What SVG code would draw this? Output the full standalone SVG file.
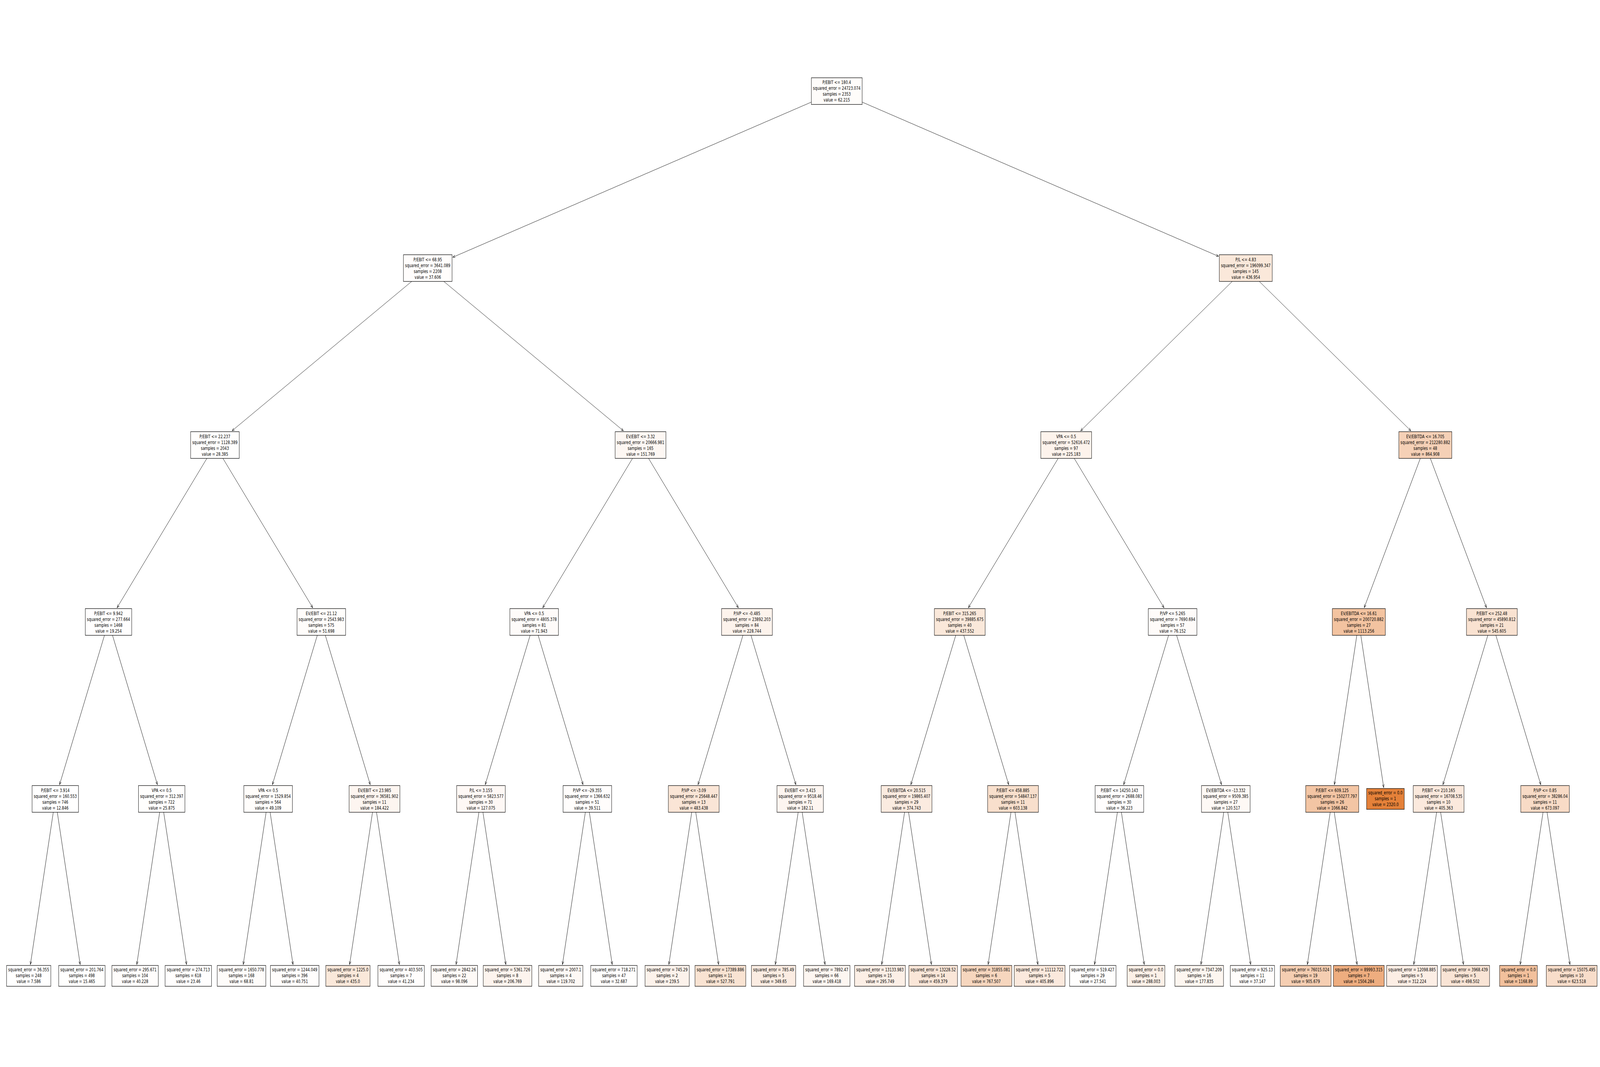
<svg xmlns="http://www.w3.org/2000/svg" width="5594" height="2732" viewBox="0 0 5594 2732" preserveAspectRatio="none">
<defs>
<style>
svg{width:100vw;height:100vh;display:block}
.n rect{stroke:#000;stroke-width:1.2}
.n text{font-family:"DejaVu Sans",sans-serif;font-size:12px;text-anchor:middle;fill:#000}
#edges path{stroke:#000;stroke-width:1;fill:none;marker-end:url(#ah)}
</style>
<marker id="ah" markerUnits="userSpaceOnUse" orient="auto" markerWidth="20" markerHeight="20" refX="0" refY="0" viewBox="-10 -10 20 20" overflow="visible">
<path d="M-8,-3.2 L0,0 L-8,3.2" fill="none" stroke="#000" stroke-width="1"/>
</marker>
</defs>
<rect x="0" y="0" width="5594" height="2732" fill="#fff"/>
<g id="edges">
<path d="M2925.5,233.3 L1583.3,658.6"/>
<path d="M2925.5,233.3 L4260,656.2"/>
<path d="M1495.5,686.4 L811.6,1102.85"/>
<path d="M1495.5,686.4 L2179.3,1102.85"/>
<path d="M4355.5,686.4 L3778.5,1102.85"/>
<path d="M4355.5,686.4 L4932.5,1102.85"/>
<path d="M751.4,1139.5 L409.4,1555.85"/>
<path d="M751.4,1139.5 L1093.3,1555.85"/>
<path d="M2239.5,1139.5 L1897.6,1555.85"/>
<path d="M2239.5,1139.5 L2581.4,1555.85"/>
<path d="M3727.7,1139.5 L3385.7,1555.85"/>
<path d="M3727.7,1139.5 L4069.6,1555.85"/>
<path d="M4983.3,1139.5 L4769.6,1555.85"/>
<path d="M4983.3,1139.5 L5197.1,1555.85"/>
<path d="M379.3,1592.5 L208.3,2008.95"/>
<path d="M379.3,1592.5 L550.3,2008.95"/>
<path d="M1123.4,1592.5 L952.4,2008.95"/>
<path d="M1123.4,1592.5 L1294.4,2008.95"/>
<path d="M1867.5,1592.5 L1696.5,2008.95"/>
<path d="M1867.5,1592.5 L2038.5,2008.95"/>
<path d="M2611.5,1592.5 L2440.5,2008.95"/>
<path d="M2611.5,1592.5 L2782.5,2008.95"/>
<path d="M3355.6,1592.5 L3184.6,2008.95"/>
<path d="M3355.6,1592.5 L3526.6,2008.95"/>
<path d="M4099.7,1592.5 L3928.7,2008.95"/>
<path d="M4099.7,1592.5 L4270.7,2008.95"/>
<path d="M4750.8,1592.5 L4665.3,2008.95"/>
<path d="M4750.8,1592.5 L4837.8,2016.45"/>
<path d="M5215.9,1592.5 L5044.85,2008.95"/>
<path d="M5215.9,1592.5 L5386.85,2008.95"/>
<path d="M193.3,2045.6 L106.3,2469.55"/>
<path d="M193.3,2045.6 L280.3,2469.55"/>
<path d="M565.3,2045.6 L478.3,2469.55"/>
<path d="M565.3,2045.6 L652.3,2469.55"/>
<path d="M937.4,2045.6 L850.4,2469.55"/>
<path d="M937.4,2045.6 L1024.4,2469.55"/>
<path d="M1309.4,2045.6 L1222.4,2469.55"/>
<path d="M1309.4,2045.6 L1396.4,2469.55"/>
<path d="M1681.5,2045.6 L1594.5,2469.55"/>
<path d="M1681.5,2045.6 L1768.5,2469.55"/>
<path d="M2053.5,2045.6 L1966.5,2469.55"/>
<path d="M2053.5,2045.6 L2140.5,2469.55"/>
<path d="M2425.5,2045.6 L2338.5,2469.55"/>
<path d="M2425.5,2045.6 L2512.5,2469.55"/>
<path d="M2797.6,2045.6 L2710.6,2469.55"/>
<path d="M2797.6,2045.6 L2884.6,2469.55"/>
<path d="M3169.6,2045.6 L3082.6,2469.55"/>
<path d="M3169.6,2045.6 L3256.6,2469.55"/>
<path d="M3541.7,2045.6 L3454.7,2469.55"/>
<path d="M3541.7,2045.6 L3628.7,2469.55"/>
<path d="M3913.7,2045.6 L3826.7,2469.55"/>
<path d="M3913.7,2045.6 L4000.7,2469.55"/>
<path d="M4285.7,2045.6 L4198.7,2469.55"/>
<path d="M4285.7,2045.6 L4372.7,2469.55"/>
<path d="M4657.8,2045.6 L4570.8,2469.55"/>
<path d="M4657.8,2045.6 L4744.8,2469.55"/>
<path d="M5029.8,2045.6 L4942.8,2469.55"/>
<path d="M5029.8,2045.6 L5116.8,2469.55"/>
<path d="M5401.9,2045.6 L5314.9,2469.55"/>
<path d="M5401.9,2045.6 L5488.9,2469.55"/>
</g>

<g id="node0" class="n"><rect x="2836.72" y="199.15" width="177.56" height="68.3" fill="#fefcfa"/><text x="2925.5" y="215.5">P/EBIT &lt;= 180.4<tspan x="2925.5" dy="15">squared_error = 24723.074</tspan><tspan x="2925.5" dy="15">samples = 2353</tspan><tspan x="2925.5" dy="15">value = 62.215</tspan></text></g>

<g id="node1" class="n"><rect x="1410.54" y="652.25" width="169.93" height="68.3" fill="#fffdfc"/><text x="1495.5" y="668.6">P/EBIT &lt;= 68.95<tspan x="1495.5" dy="15">squared_error = 3641.089</tspan><tspan x="1495.5" dy="15">samples = 2208</tspan><tspan x="1495.5" dy="15">value = 37.606</tspan></text></g>
<g id="node2" class="n"><rect x="4262.9" y="652.25" width="185.2" height="68.3" fill="#fae8da"/><text x="4355.5" y="668.6">P/L &lt;= 4.83<tspan x="4355.5" dy="15">squared_error = 196099.347</tspan><tspan x="4355.5" dy="15">samples = 145</tspan><tspan x="4355.5" dy="15">value = 436.954</tspan></text></g>

<g id="node3" class="n"><rect x="666.44" y="1105.35" width="169.93" height="68.3" fill="#fffefd"/><text x="751.4" y="1121.7">P/EBIT &lt;= 22.237<tspan x="751.4" dy="15">squared_error = 1128.389</tspan><tspan x="751.4" dy="15">samples = 2043</tspan><tspan x="751.4" dy="15">value = 28.385</tspan></text></g>
<g id="node4" class="n"><rect x="2150.72" y="1105.35" width="177.56" height="68.3" fill="#fdf7f3"/><text x="2239.5" y="1121.7">EV/EBIT &lt;= 3.32<tspan x="2239.5" dy="15">squared_error = 20666.981</tspan><tspan x="2239.5" dy="15">samples = 165</tspan><tspan x="2239.5" dy="15">value = 151.769</tspan></text></g>
<g id="node5" class="n"><rect x="3638.92" y="1105.35" width="177.56" height="68.3" fill="#fdf3ec"/><text x="3727.7" y="1121.7">VPA &lt;= 0.5<tspan x="3727.7" dy="15">squared_error = 52616.472</tspan><tspan x="3727.7" dy="15">samples = 97</tspan><tspan x="3727.7" dy="15">value = 225.183</tspan></text></g>
<g id="node6" class="n"><rect x="4890.7" y="1105.35" width="185.2" height="68.3" fill="#f5d0b6"/><text x="4983.3" y="1121.7">EV/EBITDA &lt;= 16.705<tspan x="4983.3" dy="15">squared_error = 212280.882</tspan><tspan x="4983.3" dy="15">samples = 48</tspan><tspan x="4983.3" dy="15">value = 864.908</tspan></text></g>

<g id="node7" class="n"><rect x="298.16" y="1558.35" width="162.29" height="68.3" fill="#fffefe"/><text x="379.3" y="1574.7">P/EBIT &lt;= 9.942<tspan x="379.3" dy="15">squared_error = 277.664</tspan><tspan x="379.3" dy="15">samples = 1468</tspan><tspan x="379.3" dy="15">value = 19.254</tspan></text></g>
<g id="node8" class="n"><rect x="1038.44" y="1558.35" width="169.93" height="68.3" fill="#fffdfb"/><text x="1123.4" y="1574.7">EV/EBIT &lt;= 21.12<tspan x="1123.4" dy="15">squared_error = 2543.983</tspan><tspan x="1123.4" dy="15">samples = 575</tspan><tspan x="1123.4" dy="15">value = 51.698</tspan></text></g>
<g id="node9" class="n"><rect x="1782.54" y="1558.35" width="169.93" height="68.3" fill="#fefbf9"/><text x="1867.5" y="1574.7">VPA &lt;= 0.5<tspan x="1867.5" dy="15">squared_error = 4805.378</tspan><tspan x="1867.5" dy="15">samples = 81</tspan><tspan x="1867.5" dy="15">value = 71.943</tspan></text></g>
<g id="node10" class="n"><rect x="2522.72" y="1558.35" width="177.56" height="68.3" fill="#fdf3ec"/><text x="2611.5" y="1574.7">P/VP &lt;= -0.485<tspan x="2611.5" dy="15">squared_error = 23892.203</tspan><tspan x="2611.5" dy="15">samples = 84</tspan><tspan x="2611.5" dy="15">value = 228.744</tspan></text></g>
<g id="node11" class="n"><rect x="3266.82" y="1558.35" width="177.56" height="68.3" fill="#fae8da"/><text x="3355.6" y="1574.7">P/EBIT &lt;= 315.265<tspan x="3355.6" dy="15">squared_error = 39885.675</tspan><tspan x="3355.6" dy="15">samples = 40</tspan><tspan x="3355.6" dy="15">value = 437.552</tspan></text></g>
<g id="node12" class="n"><rect x="4014.74" y="1558.35" width="169.93" height="68.3" fill="#fefbf9"/><text x="4099.7" y="1574.7">P/VP &lt;= 5.265<tspan x="4099.7" dy="15">squared_error = 7690.694</tspan><tspan x="4099.7" dy="15">samples = 57</tspan><tspan x="4099.7" dy="15">value = 76.152</tspan></text></g>
<g id="node13" class="n"><rect x="4658.2" y="1558.35" width="185.2" height="68.3" fill="#f3c3a0"/><text x="4750.8" y="1574.7">EV/EBITDA &lt;= 16.61<tspan x="4750.8" dy="15">squared_error = 200720.882</tspan><tspan x="4750.8" dy="15">samples = 27</tspan><tspan x="4750.8" dy="15">value = 1113.256</tspan></text></g>
<g id="node14" class="n"><rect x="5127.12" y="1558.35" width="177.56" height="68.3" fill="#f9e2d1"/><text x="5215.9" y="1574.7">P/EBIT &lt;= 252.48<tspan x="5215.9" dy="15">squared_error = 45890.812</tspan><tspan x="5215.9" dy="15">samples = 21</tspan><tspan x="5215.9" dy="15">value = 545.605</tspan></text></g>

<g id="node15" class="n"><rect x="112.16" y="2011.45" width="162.29" height="68.3" fill="#ffffff"/><text x="193.3" y="2027.8">P/EBIT &lt;= 3.914<tspan x="193.3" dy="15">squared_error = 160.553</tspan><tspan x="193.3" dy="15">samples = 746</tspan><tspan x="193.3" dy="15">value = 12.846</tspan></text></g>
<g id="node16" class="n"><rect x="484.16" y="2011.45" width="162.29" height="68.3" fill="#fffefd"/><text x="565.3" y="2027.8">VPA &lt;= 0.5<tspan x="565.3" dy="15">squared_error = 312.397</tspan><tspan x="565.3" dy="15">samples = 722</tspan><tspan x="565.3" dy="15">value = 25.875</tspan></text></g>
<g id="node17" class="n"><rect x="852.44" y="2011.45" width="169.93" height="68.3" fill="#fffdfb"/><text x="937.4" y="2027.8">VPA &lt;= 0.5<tspan x="937.4" dy="15">squared_error = 1529.854</tspan><tspan x="937.4" dy="15">samples = 564</tspan><tspan x="937.4" dy="15">value = 49.109</tspan></text></g>
<g id="node18" class="n"><rect x="1220.62" y="2011.45" width="177.56" height="68.3" fill="#fdf5f0"/><text x="1309.4" y="2027.8">EV/EBIT &lt;= 23.985<tspan x="1309.4" dy="15">squared_error = 36581.902</tspan><tspan x="1309.4" dy="15">samples = 11</tspan><tspan x="1309.4" dy="15">value = 184.422</tspan></text></g>
<g id="node19" class="n"><rect x="1596.54" y="2011.45" width="169.93" height="68.3" fill="#fef8f5"/><text x="1681.5" y="2027.8">P/L &lt;= 3.155<tspan x="1681.5" dy="15">squared_error = 5823.577</tspan><tspan x="1681.5" dy="15">samples = 30</tspan><tspan x="1681.5" dy="15">value = 127.075</tspan></text></g>
<g id="node20" class="n"><rect x="1968.54" y="2011.45" width="169.93" height="68.3" fill="#fffdfc"/><text x="2053.5" y="2027.8">P/VP &lt;= -29.355<tspan x="2053.5" dy="15">squared_error = 1366.632</tspan><tspan x="2053.5" dy="15">samples = 51</tspan><tspan x="2053.5" dy="15">value = 39.511</tspan></text></g>
<g id="node21" class="n"><rect x="2336.72" y="2011.45" width="177.56" height="68.3" fill="#fae5d6"/><text x="2425.5" y="2027.8">P/VP &lt;= -3.09<tspan x="2425.5" dy="15">squared_error = 25648.447</tspan><tspan x="2425.5" dy="15">samples = 13</tspan><tspan x="2425.5" dy="15">value = 483.438</tspan></text></g>
<g id="node22" class="n"><rect x="2716.46" y="2011.45" width="162.29" height="68.3" fill="#fdf5f0"/><text x="2797.6" y="2027.8">EV/EBIT &lt;= 3.415<tspan x="2797.6" dy="15">squared_error = 9518.46</tspan><tspan x="2797.6" dy="15">samples = 71</tspan><tspan x="2797.6" dy="15">value = 182.11</tspan></text></g>
<g id="node23" class="n"><rect x="3080.82" y="2011.45" width="177.56" height="68.3" fill="#fbebe0"/><text x="3169.6" y="2027.8">EV/EBITDA &lt;= 20.515<tspan x="3169.6" dy="15">squared_error = 19865.407</tspan><tspan x="3169.6" dy="15">samples = 29</tspan><tspan x="3169.6" dy="15">value = 374.743</tspan></text></g>
<g id="node24" class="n"><rect x="3452.92" y="2011.45" width="177.56" height="68.3" fill="#f8dfcc"/><text x="3541.7" y="2027.8">P/EBIT &lt;= 458.885<tspan x="3541.7" dy="15">squared_error = 54847.137</tspan><tspan x="3541.7" dy="15">samples = 11</tspan><tspan x="3541.7" dy="15">value = 603.138</tspan></text></g>
<g id="node25" class="n"><rect x="3828.74" y="2011.45" width="169.93" height="68.3" fill="#fffdfd"/><text x="3913.7" y="2027.8">P/EBIT &lt;= 14250.143<tspan x="3913.7" dy="15">squared_error = 2688.083</tspan><tspan x="3913.7" dy="15">samples = 30</tspan><tspan x="3913.7" dy="15">value = 36.223</tspan></text></g>
<g id="node26" class="n"><rect x="4200.74" y="2011.45" width="169.93" height="68.3" fill="#fef9f5"/><text x="4285.7" y="2027.8">EV/EBITDA &lt;= -13.332<tspan x="4285.7" dy="15">squared_error = 9509.385</tspan><tspan x="4285.7" dy="15">samples = 27</tspan><tspan x="4285.7" dy="15">value = 120.517</tspan></text></g>
<g id="node27" class="n"><rect x="4565.2" y="2011.45" width="185.2" height="68.3" fill="#f3c5a4"/><text x="4657.8" y="2027.8">P/EBIT &lt;= 609.125<tspan x="4657.8" dy="15">squared_error = 150277.797</tspan><tspan x="4657.8" dy="15">samples = 26</tspan><tspan x="4657.8" dy="15">value = 1066.842</tspan></text></g>
<g id="node28" class="n"><rect x="4777.93" y="2018.95" width="131.75" height="53.3" fill="#e58139"/><text x="4843.8" y="2034.1">squared_error = 0.0<tspan x="4843.8" dy="15">samples = 1</tspan><tspan x="4843.8" dy="15">value = 2320.0</tspan></text></g>
<g id="node29" class="n"><rect x="4941.02" y="2011.45" width="177.56" height="68.3" fill="#fbe9dd"/><text x="5029.8" y="2027.8">P/EBIT &lt;= 210.165<tspan x="5029.8" dy="15">squared_error = 16708.535</tspan><tspan x="5029.8" dy="15">samples = 10</tspan><tspan x="5029.8" dy="15">value = 405.363</tspan></text></g>
<g id="node30" class="n"><rect x="5316.94" y="2011.45" width="169.93" height="68.3" fill="#f8dbc6"/><text x="5401.9" y="2027.8">P/VP &lt;= 0.85<tspan x="5401.9" dy="15">squared_error = 38286.04</tspan><tspan x="5401.9" dy="15">samples = 11</tspan><tspan x="5401.9" dy="15">value = 673.097</tspan></text></g>

<g id="leaf0" class="n"><rect x="22.97" y="2472.05" width="154.66" height="53.3" fill="#ffffff"/><text x="100.3" y="2487.2">squared_error = 36.355<tspan x="100.3" dy="15">samples = 248</tspan><tspan x="100.3" dy="15">value = 7.586</tspan></text></g>
<g id="leaf1" class="n"><rect x="205.16" y="2472.05" width="162.29" height="53.3" fill="#fffffe"/><text x="286.3" y="2487.2">squared_error = 201.764<tspan x="286.3" dy="15">samples = 498</tspan><tspan x="286.3" dy="15">value = 15.465</tspan></text></g>
<g id="leaf2" class="n"><rect x="391.16" y="2472.05" width="162.29" height="53.3" fill="#fffdfc"/><text x="472.3" y="2487.2">squared_error = 295.671<tspan x="472.3" dy="15">samples = 104</tspan><tspan x="472.3" dy="15">value = 40.228</tspan></text></g>
<g id="leaf3" class="n"><rect x="577.26" y="2472.05" width="162.29" height="53.3" fill="#fffefe"/><text x="658.4" y="2487.2">squared_error = 274.713<tspan x="658.4" dy="15">samples = 618</tspan><tspan x="658.4" dy="15">value = 23.46</tspan></text></g>
<g id="leaf4" class="n"><rect x="759.44" y="2472.05" width="169.93" height="53.3" fill="#fefcfa"/><text x="844.4" y="2487.2">squared_error = 1650.778<tspan x="844.4" dy="15">samples = 168</tspan><tspan x="844.4" dy="15">value = 68.81</tspan></text></g>
<g id="leaf5" class="n"><rect x="945.44" y="2472.05" width="169.93" height="53.3" fill="#fffdfc"/><text x="1030.4" y="2487.2">squared_error = 1244.049<tspan x="1030.4" dy="15">samples = 396</tspan><tspan x="1030.4" dy="15">value = 40.751</tspan></text></g>
<g id="leaf6" class="n"><rect x="1139.07" y="2472.05" width="154.66" height="53.3" fill="#fae8da"/><text x="1216.4" y="2487.2">squared_error = 1225.0<tspan x="1216.4" dy="15">samples = 4</tspan><tspan x="1216.4" dy="15">value = 435.0</tspan></text></g>
<g id="leaf7" class="n"><rect x="1321.26" y="2472.05" width="162.29" height="53.3" fill="#fffdfc"/><text x="1402.4" y="2487.2">squared_error = 403.505<tspan x="1402.4" dy="15">samples = 7</tspan><tspan x="1402.4" dy="15">value = 41.234</tspan></text></g>
<g id="leaf8" class="n"><rect x="1507.36" y="2472.05" width="162.29" height="53.3" fill="#fefaf7"/><text x="1588.5" y="2487.2">squared_error = 2842.26<tspan x="1588.5" dy="15">samples = 22</tspan><tspan x="1588.5" dy="15">value = 98.096</tspan></text></g>
<g id="leaf9" class="n"><rect x="1689.54" y="2472.05" width="169.93" height="53.3" fill="#fdf4ee"/><text x="1774.5" y="2487.2">squared_error = 5361.726<tspan x="1774.5" dy="15">samples = 8</tspan><tspan x="1774.5" dy="15">value = 206.769</tspan></text></g>
<g id="leaf10" class="n"><rect x="1883.17" y="2472.05" width="154.66" height="53.3" fill="#fef9f5"/><text x="1960.5" y="2487.2">squared_error = 2007.1<tspan x="1960.5" dy="15">samples = 4</tspan><tspan x="1960.5" dy="15">value = 119.702</tspan></text></g>
<g id="leaf11" class="n"><rect x="2065.36" y="2472.05" width="162.29" height="53.3" fill="#fffefd"/><text x="2146.5" y="2487.2">squared_error = 718.271<tspan x="2146.5" dy="15">samples = 47</tspan><tspan x="2146.5" dy="15">value = 32.687</tspan></text></g>
<g id="leaf12" class="n"><rect x="2255.17" y="2472.05" width="154.66" height="53.3" fill="#fcf2eb"/><text x="2332.5" y="2487.2">squared_error = 745.29<tspan x="2332.5" dy="15">samples = 2</tspan><tspan x="2332.5" dy="15">value = 239.5</tspan></text></g>
<g id="leaf13" class="n"><rect x="2429.82" y="2472.05" width="177.56" height="53.3" fill="#f9e3d2"/><text x="2518.6" y="2487.2">squared_error = 17389.886<tspan x="2518.6" dy="15">samples = 11</tspan><tspan x="2518.6" dy="15">value = 527.791</tspan></text></g>
<g id="leaf14" class="n"><rect x="2627.27" y="2472.05" width="154.66" height="53.3" fill="#fbece2"/><text x="2704.6" y="2487.2">squared_error = 785.49<tspan x="2704.6" dy="15">samples = 5</tspan><tspan x="2704.6" dy="15">value = 349.65</tspan></text></g>
<g id="leaf15" class="n"><rect x="2809.46" y="2472.05" width="162.29" height="53.3" fill="#fdf6f1"/><text x="2890.6" y="2487.2">squared_error = 7892.47<tspan x="2890.6" dy="15">samples = 66</tspan><tspan x="2890.6" dy="15">value = 169.418</tspan></text></g>
<g id="leaf16" class="n"><rect x="2987.82" y="2472.05" width="177.56" height="53.3" fill="#fcefe6"/><text x="3076.6" y="2487.2">squared_error = 13133.983<tspan x="3076.6" dy="15">samples = 15</tspan><tspan x="3076.6" dy="15">value = 295.749</tspan></text></g>
<g id="leaf17" class="n"><rect x="3177.64" y="2472.05" width="169.93" height="53.3" fill="#fae6d8"/><text x="3262.6" y="2487.2">squared_error = 13228.52<tspan x="3262.6" dy="15">samples = 14</tspan><tspan x="3262.6" dy="15">value = 459.379</tspan></text></g>
<g id="leaf18" class="n"><rect x="3359.92" y="2472.05" width="177.56" height="53.3" fill="#f6d6be"/><text x="3448.7" y="2487.2">squared_error = 31855.081<tspan x="3448.7" dy="15">samples = 6</tspan><tspan x="3448.7" dy="15">value = 767.507</tspan></text></g>
<g id="leaf19" class="n"><rect x="3545.92" y="2472.05" width="177.56" height="53.3" fill="#fbe9dd"/><text x="3634.7" y="2487.2">squared_error = 11112.722<tspan x="3634.7" dy="15">samples = 5</tspan><tspan x="3634.7" dy="15">value = 405.896</tspan></text></g>
<g id="leaf20" class="n"><rect x="3739.56" y="2472.05" width="162.29" height="53.3" fill="#fffefd"/><text x="3820.7" y="2487.2">squared_error = 519.427<tspan x="3820.7" dy="15">samples = 29</tspan><tspan x="3820.7" dy="15">value = 27.541</tspan></text></g>
<g id="leaf21" class="n"><rect x="3940.83" y="2472.05" width="131.75" height="53.3" fill="#fcf0e7"/><text x="4006.7" y="2487.2">squared_error = 0.0<tspan x="4006.7" dy="15">samples = 1</tspan><tspan x="4006.7" dy="15">value = 288.003</tspan></text></g>
<g id="leaf22" class="n"><rect x="4107.74" y="2472.05" width="169.93" height="53.3" fill="#fdf6f0"/><text x="4192.7" y="2487.2">squared_error = 7347.209<tspan x="4192.7" dy="15">samples = 16</tspan><tspan x="4192.7" dy="15">value = 177.835</tspan></text></g>
<g id="leaf23" class="n"><rect x="4301.47" y="2472.05" width="154.66" height="53.3" fill="#fffdfc"/><text x="4378.8" y="2487.2">squared_error = 925.13<tspan x="4378.8" dy="15">samples = 11</tspan><tspan x="4378.8" dy="15">value = 37.147</tspan></text></g>
<g id="leaf24" class="n"><rect x="4476.02" y="2472.05" width="177.56" height="53.3" fill="#f5ceb2"/><text x="4564.8" y="2487.2">squared_error = 76015.024<tspan x="4564.8" dy="15">samples = 19</tspan><tspan x="4564.8" dy="15">value = 905.679</tspan></text></g>
<g id="leaf25" class="n"><rect x="4662.02" y="2472.05" width="177.56" height="53.3" fill="#eead7f"/><text x="4750.8" y="2487.2">squared_error = 89993.315<tspan x="4750.8" dy="15">samples = 7</tspan><tspan x="4750.8" dy="15">value = 1504.284</tspan></text></g>
<g id="leaf26" class="n"><rect x="4848.02" y="2472.05" width="177.56" height="53.3" fill="#fceee5"/><text x="4936.8" y="2487.2">squared_error = 12098.885<tspan x="4936.8" dy="15">samples = 5</tspan><tspan x="4936.8" dy="15">value = 312.224</tspan></text></g>
<g id="leaf27" class="n"><rect x="5037.84" y="2472.05" width="169.93" height="53.3" fill="#f9e4d5"/><text x="5122.8" y="2487.2">squared_error = 3968.439<tspan x="5122.8" dy="15">samples = 5</tspan><tspan x="5122.8" dy="15">value = 498.502</tspan></text></g>
<g id="leaf28" class="n"><rect x="5243.03" y="2472.05" width="131.75" height="53.3" fill="#f2c09c"/><text x="5308.9" y="2487.2">squared_error = 0.0<tspan x="5308.9" dy="15">samples = 1</tspan><tspan x="5308.9" dy="15">value = 1168.89</tspan></text></g>
<g id="leaf29" class="n"><rect x="5406.12" y="2472.05" width="177.56" height="53.3" fill="#f8ddca"/><text x="5494.9" y="2487.2">squared_error = 15075.495<tspan x="5494.9" dy="15">samples = 10</tspan><tspan x="5494.9" dy="15">value = 623.518</tspan></text></g>
</svg>
